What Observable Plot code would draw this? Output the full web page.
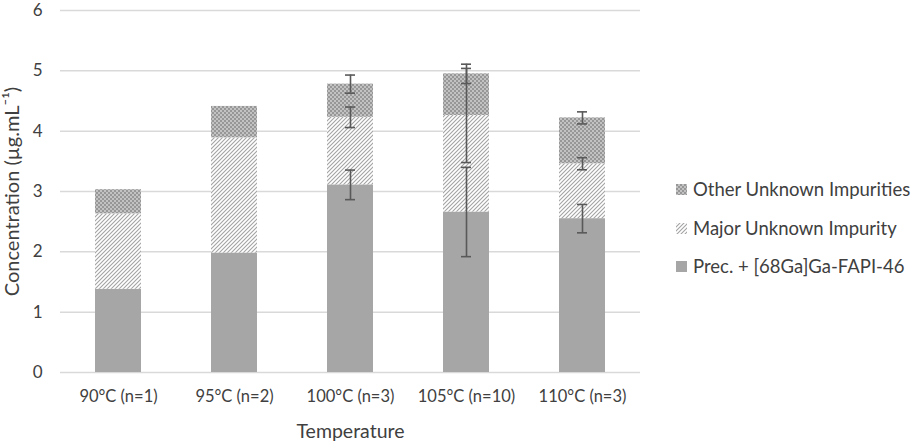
<!DOCTYPE html>
<html>
<head>
<meta charset="utf-8">
<script src="https://cdn.jsdelivr.net/npm/d3@7"></script>
<script src="https://cdn.jsdelivr.net/npm/@observablehq/plot@0.6"></script>
<style>
  body { margin: 0; background: white; }
  #wrap { position: relative; width: 913px; height: 444px; font-family: Lato, sans-serif; color: #404040; }
  .legend { position: absolute; left: 676px; top: 0; font-size: 18.5px; }
  .row { position: absolute; left: 0; display: flex; align-items: center; white-space: nowrap; }
  .row svg { margin-right: 6px; }
</style>
</head>
<body>
<div id="wrap"></div>
<script>
const categories = ["90°C (n=1)", "95°C (n=2)", "100°C (n=3)", "105°C (n=10)", "110°C (n=3)"];
const seriesNames = ["Prec. + [68Ga]Ga-FAPI-46", "Major Unknown Impurity", "Other Unknown Impurities"];
const prec  = [1.38, 1.98, 3.11, 2.66, 2.55];
const major = [1.25, 1.91, 1.12, 1.60, 0.91];
const other = [0.40, 0.52, 0.55, 0.69, 0.76];
const precErr  = [null, null, 0.245, 0.74, 0.235];
const majorErr = [null, null, 0.17, 0.78, 0.10];
const otherErr = [null, null, 0.15, 0.16, 0.10];
const yTicks = [0, 1, 2, 3, 4, 5, 6];
const fills = ["#a6a6a6", "url(#hatch)", "url(#checker)"];

const seriesValues = [prec, major, other];
const seriesErrs = [precErr, majorErr, otherErr];
const bars = [];
const errs = [];
categories.forEach((c, i) => {
  let base = 0;
  seriesValues.forEach((vals, s) => {
    const top = base + vals[i];
    bars.push({cat: c, series: seriesNames[s], y1: base, y2: top});
    const e = seriesErrs[s][i];
    if (e != null) errs.push({cat: c, lo: top - e, hi: top + e});
    base = top;
  });
});

const svg = Plot.plot({
  width: 913,
  height: 444,
  marginLeft: 60,
  marginRight: 273,
  marginTop: 10,
  marginBottom: 72,
  style: {fontFamily: "Lato, sans-serif", fontSize: "16px", color: "#404040", background: "white", overflow: "visible"},
  x: {domain: categories, paddingInner: 0.6, paddingOuter: 0.3},
  y: {domain: [0, 6]},
  color: {domain: seriesNames, range: fills},
  marks: [
    Plot.gridY(yTicks, {stroke: "#d9d9d9", strokeOpacity: 1, strokeWidth: 1.5}),
    Plot.barY(bars, {x: "cat", y1: "y1", y2: "y2", fill: "series"}),
    Plot.ruleX(errs, {x: "cat", y1: "lo", y2: "hi", stroke: "#595959", strokeWidth: 1.6}),
    Plot.tickY(errs, {x: "cat", y: "lo", stroke: "#595959", strokeWidth: 1.6, insetLeft: 18, insetRight: 18}),
    Plot.tickY(errs, {x: "cat", y: "hi", stroke: "#595959", strokeWidth: 1.6, insetLeft: 18, insetRight: 18}),
    Plot.axisX({tickSize: 0, tickPadding: 18, label: null, fontSize: 16.5}),
    Plot.axisY(yTicks, {tickSize: 0, tickPadding: 18, tickFormat: d => String(d), label: null, fontSize: 17}),
    Plot.axisX({tickSize: 0, ticks: [], label: "Temperature", labelAnchor: "center", labelOffset: 65, fontSize: 19.5}),
    Plot.axisY({tickSize: 0, ticks: [], label: "Concentration (µg.mL⁻¹)", labelAnchor: "center", labelArrow: "none", labelOffset: 56, fontSize: 20})
  ]
});

const defs = d3.select(svg).insert("defs", ":first-child");
const hatch = defs.append("pattern").attr("id", "hatch").attr("patternUnits", "userSpaceOnUse").attr("width", 4).attr("height", 4);
hatch.append("rect").attr("width", 4).attr("height", 4).attr("fill", "white");
hatch.append("path").attr("d", "M-1,1 l2,-2 M0,4 l4,-4 M3,5 l2,-2").attr("stroke", "#a3a3a3").attr("stroke-width", 1.1);
const checker = defs.append("pattern").attr("id", "checker").attr("patternUnits", "userSpaceOnUse").attr("width", 4).attr("height", 4);
checker.append("rect").attr("width", 4).attr("height", 4).attr("fill", "#c2c2c2");
checker.append("rect").attr("width", 2).attr("height", 2).attr("fill", "#979797");
checker.append("rect").attr("x", 2).attr("y", 2).attr("width", 2).attr("height", 2).attr("fill", "#979797");

const wrap = document.getElementById("wrap");
wrap.appendChild(svg);

const legend = document.createElement("div");
legend.className = "legend";
const legendOrder = [2, 1, 0];
const rowTops = [178, 217, 255];
legendOrder.forEach((s, k) => {
  const row = document.createElement("div");
  row.className = "row";
  row.style.top = rowTops[k] + "px";
  row.innerHTML = `<svg width="11" height="11"><rect width="11" height="11" fill="${fills[s]}"/></svg><span>${seriesNames[s]}</span>`;
  legend.appendChild(row);
});
wrap.appendChild(legend);
</script>
</body>
</html>
